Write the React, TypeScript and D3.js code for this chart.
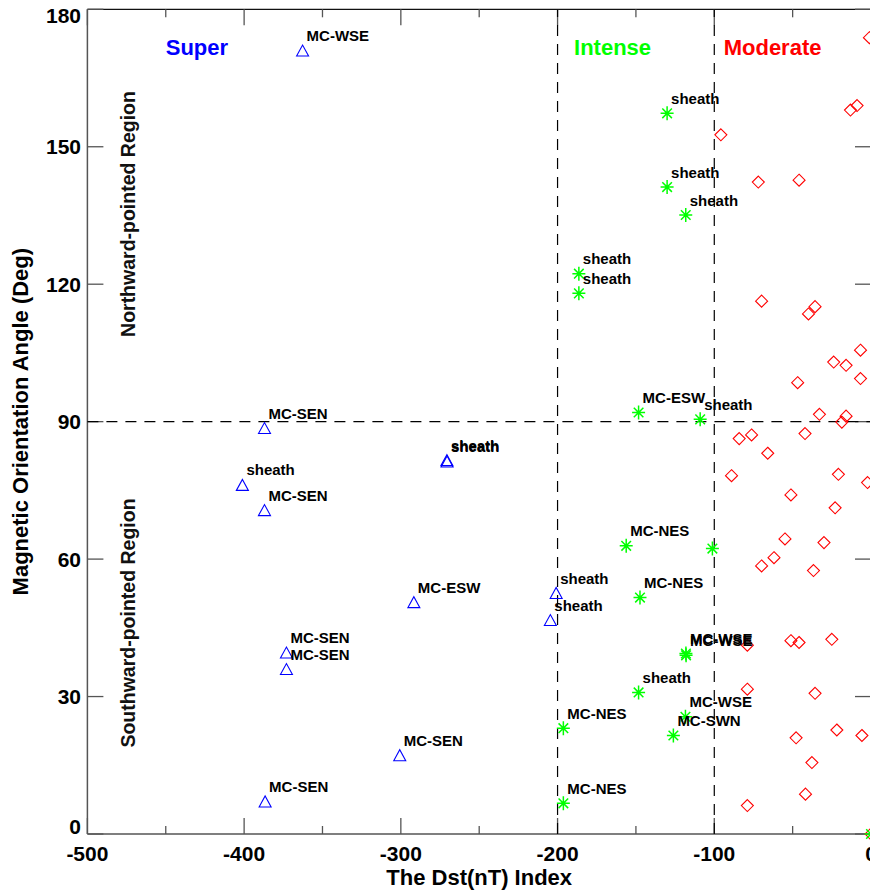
import React from 'react';
import * as d3 from 'd3';

// Super storms (blue triangles)
const superDst = [-362.7, -387, -270.6, -270.5, -401.1, -387, -291.7, -200.9, -204.6, -373, -373, -300.7, -386.6];
const superAngle = [171.0, 88.6, 81.6, 81.3, 76.2, 70.7, 50.6, 52.6, 46.7, 39.6, 36.0, 17.2, 7.1];
const superLabels = ['MC-WSE', 'MC-SEN', 'sheath', 'sheath', 'sheath', 'MC-SEN', 'MC-ESW', 'sheath', 'sheath', 'MC-SEN', 'MC-SEN', 'MC-SEN', 'MC-SEN'];

// Intense storms (green asterisks)
const intenseDst = [-130.1, -130.1, -118.2, -186.4, -186.4, -148.3, -109.0, -156.2, -101.2, -147.4, -118.1, -118.0, -148.3, -118.4, -126.1, -196.3, -196.3, 0];
const intenseAngle = [157.3, 141.2, 135.1, 122.3, 118.0, 92.0, 90.5, 62.9, 62.3, 51.6, 39.4, 39.0, 30.9, 25.6, 21.5, 23.1, 6.7, 0];
const intenseLabels = ['sheath', 'sheath', 'sheath', 'sheath', 'sheath', 'MC-ESW', 'sheath', 'MC-NES', '', 'MC-NES', 'MC-WSE', 'MC-WSE', 'sheath', 'MC-WSE', 'MC-SWN', 'MC-NES', 'MC-NES', ''];

// Moderate storms (red diamonds)
const moderateDst = [-1, -13.1, -8.9, -95.8, -71.9, -45.9, -69.8, -39.9, -35.7, -6.7, -23.8, -15.9, -6.7, -46.8, -32.9, -15.9, -18.6, -42.1, -84.1, -76.2, -65.9, -89.0, -20.8, -2.2, -51.1, -22.9, -54.9, -30.0, -61.9, -69.8, -36.7, -78.9, -51.1, -45.9, -25.0, -78.9, -35.7, -21.8, -5.8, -47.8, -37.7, -41.8, -78.9, 0];
const moderateAngle = [173.8, 158.0, 159.0, 152.6, 142.3, 142.7, 116.3, 113.5, 115.1, 105.6, 103.0, 102.3, 99.4, 98.5, 91.6, 91.2, 89.9, 87.4, 86.3, 87.1, 83.1, 78.2, 78.5, 76.7, 74.0, 71.2, 64.4, 63.6, 60.3, 58.5, 57.5, 41.2, 42.2, 41.8, 42.5, 31.6, 30.7, 22.7, 21.5, 21.0, 15.6, 8.7, 6.2, 0];

const xTicks = [-500, -400, -300, -200, -100, 0];
const xMinorTicks = [-450, -350, -250, -150, -50];
const yTicks = [0, 30, 60, 90, 120, 150, 180];

const categoryNames = ['Super', 'Intense', 'Moderate'];
const categoryDst = [-450, -189.5, -94];
const categoryAngle = 170;
const categoryColors = ['#0000ff', '#00ff00', '#ff0000'];

const dividerDst = [-200, -100];
const dividerAngle = 90;

const W = 870;
const H = 893;
const FONT = '"Liberation Sans", Arial, Helvetica, sans-serif';

const App = () => {
    const x = d3.scaleLinear().domain([-500, 0]).range([87.4, 871]);
    const y = d3.scaleLinear().domain([0, 180]).range([834, 9.3]);
    const [x0, x1] = x.range();
    const [y0, y1] = y.range();

    const triangle = (cx: number, cy: number) =>
        `M${cx - 6},${cy + 5.5}L${cx},${cy - 5.5}L${cx + 6},${cy + 5.5}Z`;
    const diamond = (cx: number, cy: number) =>
        `M${cx},${cy - 6}L${cx + 6},${cy}L${cx},${cy + 6}L${cx - 6},${cy}Z`;
    const asterisk = (cx: number, cy: number) => {
        const d = 4.8;
        return `M${cx - 6.5},${cy}L${cx + 6.5},${cy}M${cx},${cy - 7}L${cx},${cy + 7}` +
            `M${cx - d},${cy - d}L${cx + d},${cy + d}M${cx - d},${cy + d}L${cx + d},${cy - d}`;
    };

    const axisColor = '#555';

    return (
        <div style={{ position: 'absolute', left: 0, top: 0 }}>
            <svg width={W} height={H} style={{ display: 'block', background: '#fff' }} fontFamily={FONT}>
                {/* frame */}
                <line x1={x0} x2={x1} y1={y1} y2={y1} stroke="#111" strokeWidth={1.2} />
                <line x1={x0} x2={x1} y1={y0} y2={y0} stroke={axisColor} strokeWidth={1.5} />
                <line x1={x0} x2={x0} y1={y0} y2={y1} stroke={axisColor} strokeWidth={1.5} />
                <line x1={x1} x2={x1} y1={y0} y2={y1} stroke={axisColor} strokeWidth={1.5} />

                {/* x ticks */}
                {xTicks.map(t => (
                    <g key={'xt' + t}>
                        <line x1={x(t)} x2={x(t)} y1={y0} y2={y0 - 16} stroke={axisColor} strokeWidth={1.3} />
                        <line x1={x(t)} x2={x(t)} y1={y1} y2={y1 + 16} stroke={axisColor} strokeWidth={1.3} />
                        <text x={x(t)} y={861} textAnchor="middle" fontSize={21} fontWeight="bold">{t}</text>
                    </g>
                ))}
                {xMinorTicks.map(t => (
                    <g key={'xm' + t}>
                        <line x1={x(t)} x2={x(t)} y1={y0} y2={y0 - 8} stroke={axisColor} strokeWidth={1.3} />
                        <line x1={x(t)} x2={x(t)} y1={y1} y2={y1 + 8} stroke={axisColor} strokeWidth={1.3} />
                    </g>
                ))}

                {/* y ticks */}
                {yTicks.map(t => {
                    const cy = Math.min(Math.max(y(t), 15), 826);
                    return (
                        <g key={'yt' + t}>
                            <line x1={x0} x2={x0 + 16} y1={y(t)} y2={y(t)} stroke={axisColor} strokeWidth={1.3} />
                            <line x1={x1} x2={x1 - 16} y1={y(t)} y2={y(t)} stroke={axisColor} strokeWidth={1.3} />
                            <text x={81} y={cy + 7.6} textAnchor="end" fontSize={21} fontWeight="bold">{t}</text>
                        </g>
                    );
                })}

                {/* dashed dividers */}
                {dividerDst.map(d => (
                    <line key={'dv' + d} x1={x(d)} x2={x(d)} y1={y0} y2={y1}
                          stroke="#000" strokeWidth={1.2} strokeDasharray="11,8" />
                ))}
                <line x1={x0} x2={x1} y1={y(dividerAngle)} y2={y(dividerAngle)}
                      stroke="#000" strokeWidth={1.2} strokeDasharray="11,8" />

                {/* axis titles */}
                <text x={(x0 + x1) / 2} y={885} textAnchor="middle" fontSize={22} fontWeight="bold">The Dst(nT) Index</text>
                <text transform={`translate(28,${(y0 + y1) / 2}) rotate(-90)`} textAnchor="middle" fontSize={22} fontWeight="bold">
                    Magnetic Orientation Angle (Deg)
                </text>

                {/* region labels */}
                <text transform="translate(135,214) rotate(-90)" textAnchor="middle" fontSize={19.5} fontWeight="bold" fill="#111">Northward-pointed Region</text>
                <text transform="translate(135,623) rotate(-90)" textAnchor="middle" fontSize={19.5} fontWeight="bold" fill="#111">Southward-pointed Region</text>

                {/* category labels */}
                {categoryNames.map((n, i) => (
                    <text key={n} x={x(categoryDst[i])} y={y(categoryAngle)} fill={categoryColors[i]}
                          fontSize={22} fontWeight="bold">{n}</text>
                ))}

                {/* moderate */}
                {moderateDst.map((d, i) => (
                    <path key={'m' + i} d={diamond(x(d), y(moderateAngle[i]))} fill="none" stroke="#ff0000" strokeWidth={1.1} />
                ))}

                {/* intense */}
                {intenseDst.map((d, i) => (
                    <g key={'i' + i}>
                        <path d={asterisk(x(d), y(intenseAngle[i]))} fill="none" stroke="#00ff00" strokeWidth={1.5} />
                        {intenseLabels[i] && (
                            <text x={x(d) + 4} y={y(intenseAngle[i]) - 9.5} fontSize={15} fontWeight="bold">{intenseLabels[i]}</text>
                        )}
                    </g>
                ))}

                {/* super */}
                {superDst.map((d, i) => (
                    <g key={'s' + i}>
                        <path d={triangle(x(d), y(superAngle[i]))} fill="none" stroke="#0000ff" strokeWidth={1.1} />
                        <text x={x(d) + 4} y={y(superAngle[i]) - 9.5} fontSize={15} fontWeight="bold">{superLabels[i]}</text>
                    </g>
                ))}
            </svg>
        </div>
    );
};

export default App;
